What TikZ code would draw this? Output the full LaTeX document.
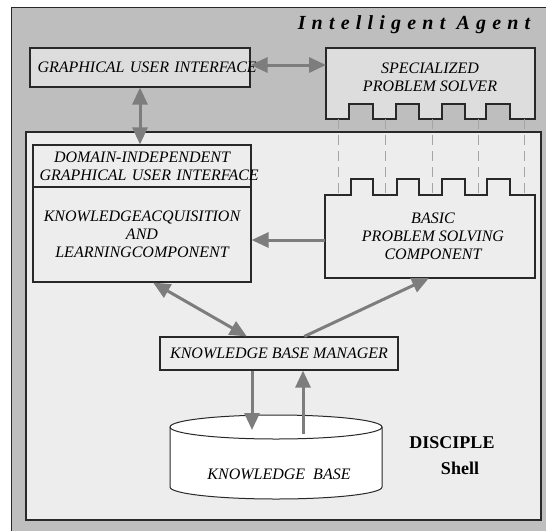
\documentclass[tikz,border=0pt]{standalone}
\usepackage{fontspec}
\setmainfont{Liberation Serif}
\usetikzlibrary{arrows.meta}

\definecolor{agentgray}{RGB}{190,190,190}
\definecolor{shellgray}{RGB}{237,237,237}
\definecolor{panelgray}{RGB}{221,221,221}
\definecolor{linkgray}{RGB}{125,125,125}
\definecolor{guidegray}{RGB}{165,165,165}
\definecolor{edgegray}{RGB}{40,40,40}

\tikzset{
  box/.style={draw=edgegray, line width=1.2pt, inner sep=0pt, align=center,
    font=\itshape\fontsize{16}{18}\selectfont},
  boxtext/.style={inner sep=0pt, align=center, font=\itshape\fontsize{16}{18}\selectfont},
  link/.style={draw=linkgray, line width=3pt, -{Triangle[length=17pt,width=15pt]}},
  dlink/.style={link, {Triangle[length=17pt,width=15pt]}-{Triangle[length=17pt,width=15pt]}},
  guide/.style={draw=guidegray, line width=0.8pt, dash pattern=on 10pt off 6pt},
  shelltext/.style={inner sep=0pt, font=\bfseries\fontsize{18}{22}\selectfont},
}

\begin{document}
\begin{tikzpicture}[x=1pt, y=-1pt]

  \useasboundingbox (0,0) rectangle (546,531);

  \fill[agentgray] (11,7) rectangle (546,531);
  \draw[edgegray, line width=1pt] (546,7) -- (11,7) -- (11,531);
  \node[inner sep=0pt, font=\bfseries\itshape\fontsize{20}{24}\selectfont\addfontfeature{LetterSpace=31}] (title) at (414,25) {Intelligent Agent};

  \filldraw[fill=shellgray, draw=edgegray, line width=1.5pt] (26,132) rectangle (541,520);

  \node[box, fill=panelgray, minimum width=220pt, minimum height=39pt, text width=205pt] (gui) at (140,67.5) {\mbox{GRAPHICAL USER INTERFACE}};

  \filldraw[fill=panelgray, draw=edgegray, line width=1.2pt] (326,48) -- (535,48) -- (535,119)
    -- (510,119) -- (510,104) -- (486,104) -- (486,119) -- (465,119) -- (465,104)
    -- (442,104) -- (442,119) -- (419,119) -- (419,104) -- (396,104) -- (396,119)
    -- (373,119) -- (373,104) -- (349,104) -- (349,119) -- (326,119) -- cycle;
  \node[boxtext] (sps) at (430,77) {SPECIALIZED\\PROBLEM SOLVER};

  \draw[guide] (338,119) -- (338,195);
  \draw[guide] (385,119) -- (385,195);
  \draw[guide] (432,119) -- (432,195);
  \draw[guide] (478,119) -- (478,195);
  \draw[guide] (524,119) -- (524,195);

  \node[box, fill=shellgray, minimum width=218pt, minimum height=42pt, text width=205pt] (digui) at (142,166) {DOMAIN-INDEPENDENT\\\mbox{GRAPHICAL USER INTERFACE}};
  \node[box, fill=shellgray, minimum width=218pt, minimum height=95pt] (kal) at (142,234.5) {KNOWLEDGEACQUISITION\\AND\\LEARNINGCOMPONENT};

  \filldraw[fill=shellgray, draw=edgegray, line width=1.2pt] (325,278) -- (325,195)
    -- (351,195) -- (351,179) -- (373,179) -- (373,195) -- (397,195) -- (397,179)
    -- (419,179) -- (419,195) -- (442,195) -- (442,179) -- (465,179) -- (465,195)
    -- (487,195) -- (487,179) -- (510,179) -- (510,195) -- (535,195) -- (535,278) -- cycle;
  \node[boxtext] (bpsc) at (433,236.5) {BASIC\\PROBLEM SOLVING\\COMPONENT};

  \node[box, fill=shellgray, minimum width=238pt, minimum height=33pt] (kbm) at (279,353.5) {KNOWLEDGE BASE MANAGER};

  \filldraw[fill=white, draw=edgegray, line width=1pt] (170,427) -- (170,487)
    arc[start angle=180, end angle=360, x radius=106pt, y radius=12pt] -- (382,427)
    arc[start angle=0, end angle=180, x radius=106pt, y radius=12pt] -- cycle;
  \draw[edgegray, line width=1pt] (170,427) arc[start angle=180, end angle=360, x radius=106pt, y radius=12pt];
  \node[boxtext] (kb) at (279,474) {KNOWLEDGE \ BASE};

  \node[shelltext] (disciple) at (452,443) {DISCIPLE};
  \node[shelltext] (shell) at (460,468) {Shell};

  \coordinate (sps-w) at (326,65);
  \coordinate (bpsc-w) at (325,240);
  \coordinate (bpsc-s) at (429,278);
  \coordinate (kb-in) at (252,430);
  \coordinate (kb-out) at (303,434);

  \draw[dlink] (gui.east |- sps-w) -- (sps-w);
  \draw[dlink] (gui.south) -- (digui.north -| gui.south);
  \draw[link] (bpsc-w) -- (kal.east |- bpsc-w);
  \draw[dlink] (kal.-77) -- (kbm.152);
  \draw[link] (kbm.34) -- (bpsc-s);
  \draw[link] (kbm.south -| kb-in) -- (kb-in);
  \draw[link] (kb-out) -- (kbm.south -| kb-out);

\end{tikzpicture}
\end{document}
